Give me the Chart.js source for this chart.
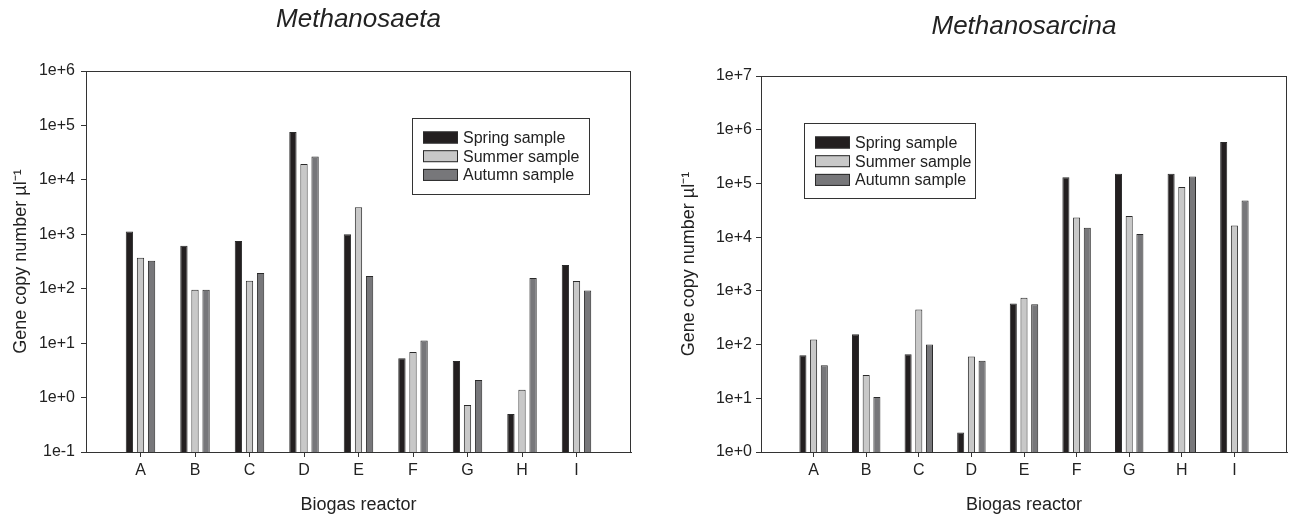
<!DOCTYPE html>
<html>
<head>
<meta charset="utf-8">
<title>Methanosaeta / Methanosarcina gene copy numbers</title>
<script src="https://cdn.jsdelivr.net/npm/chart.js@4.4.1/dist/chart.umd.min.js"></script>
<style>
  body { margin: 0; background: #fff; }
  #wrap { position: relative; width: 1289px; height: 517px; }
  canvas { position: absolute; top: 0; }
  #saeta { left: 0; }
  #sarcina { left: 645px; }
</style>
</head>
<body>
<div id="wrap">
  <canvas id="saeta" width="645" height="517"></canvas>
  <canvas id="sarcina" width="644" height="517"></canvas>
</div>
<script>
// biogas reactors on the x axis
const reactors = ['A', 'B', 'C', 'D', 'E', 'F', 'G', 'H', 'I'];
const seriesNames = ['Spring sample', 'Summer sample', 'Autumn sample'];
const seriesColors = ['#231f20', '#c8c8c8', '#77777a'];

// Methanosaeta, gene copies per µl
const saetaSpring = [1120, 617, 752, 75700, 1000, 5.3, 4.7, 0.50, 272];
const saetaSummer = [370, 96, 140, 19500, 3150, 6.9, 0.73, 1.39, 138];
const saetaAutumn = [327, 96, 194, 27000, 171, 11.2, 2.1, 158, 93];
const saetaTicks = [0.1, 1, 10, 100, 1e3, 1e4, 1e5, 1e6];
const saetaTickLabels = ['1e-1', '1e+0', '1e+1', '1e+2', '1e+3', '1e+4', '1e+5', '1e+6'];

// Methanosarcina
const sarcinaSpring = [63, 155, 66, 2.3, 582, 130000, 152000, 152000, 592000];
const sarcinaSummer = [124, 27, 451, 60, 742, 23100, 24800, 86000, 16400];
const sarcinaAutumn = [41, 10.6, 100, 50, 566, 14900, 11500, 134000, 48000];
const sarcinaTicks = [1, 10, 100, 1e3, 1e4, 1e5, 1e6, 1e7];
const sarcinaTickLabels = ['1e+0', '1e+1', '1e+2', '1e+3', '1e+4', '1e+5', '1e+6', '1e+7'];

const reactorPos = reactors.map((r, i) => i + 1);

Chart.defaults.font.family = "'Liberation Sans', Arial, sans-serif";
Chart.defaults.font.size = 16;
Chart.defaults.color = '#222';

// frame, italic title and boxed legend
const decor = {
  id: 'decor',
  afterDraw(chart, args, opts) {
    const ctx = chart.ctx;
    const a = chart.chartArea;
    ctx.save();
    ctx.strokeStyle = '#333';
    ctx.lineWidth = 1;
    ctx.strokeRect(Math.round(a.left) + 0.5, Math.round(a.top) + 0.5,
      Math.round(a.right - a.left) - 1, Math.round(a.bottom - a.top));

    ctx.fillStyle = '#222';
    ctx.font = "italic 26px 'Liberation Sans', Arial, sans-serif";
    ctx.textAlign = 'center';
    ctx.textBaseline = 'alphabetic';
    ctx.fillText(opts.title, (a.left + a.right) / 2, opts.titleY);

    const lg = opts.legend;
    ctx.strokeRect(lg.x + 0.5, lg.y + 0.5, lg.w, lg.h);
    ctx.font = "16px 'Liberation Sans', Arial, sans-serif";
    ctx.textAlign = 'left';
    ctx.textBaseline = 'middle';
    chart.data.datasets.forEach((ds, i) => {
      const cy = lg.y + 19.5 + i * 18.7;
      ctx.fillStyle = ds.backgroundColor;
      ctx.fillRect(lg.x + 11, cy - 6, 35, 12);
      ctx.strokeStyle = '#2a2a2a';
      ctx.strokeRect(lg.x + 11.5, cy - 5.5, 34, 11);
      ctx.fillStyle = '#222';
      ctx.fillText(ds.label, lg.x + 51, cy + 1);
    });
    ctx.restore();
  }
};

function makeDatasets(series) {
  return series.map((vals, i) => ({
    label: seriesNames[i],
    data: vals.map((v, j) => ({ x: reactorPos[j], y: v })),
    backgroundColor: seriesColors[i],
    borderColor: '#2a2a2a',
    borderWidth: 1,
    borderSkipped: 'bottom',
    categoryPercentage: 0.61,
    barPercentage: 0.66
  }));
}

function buildChart(id, series, ticks, tickLabels, cfg) {
  return new Chart(document.getElementById(id), {
    type: 'bar',
    data: { datasets: makeDatasets(series) },
    plugins: [decor],
    options: {
      responsive: false,
      animation: false,
      layout: { padding: { left: 0, right: cfg.padRight, top: cfg.padTop, bottom: 0 } },
      plugins: {
        legend: { display: false },
        tooltip: { enabled: false },
        decor: { title: cfg.title, titleY: cfg.titleY, legend: cfg.legend }
      },
      scales: {
        x: {
          type: 'linear',
          min: 0,
          max: 10,
          offset: false,
          grid: { offset: false, drawOnChartArea: false, drawTicks: true, tickLength: 5, color: '#333' },
          border: { display: true, color: '#333' },
          afterBuildTicks: s => { s.ticks = reactorPos.map(v => ({ value: v })); },
          ticks: { padding: 4, autoSkip: false, maxRotation: 0, callback: v => reactors[v - 1] || '' },
          title: { display: true, text: 'Biogas reactor', font: { size: 18 }, padding: { top: 1, bottom: 1 } },
          afterFit: s => { s.height = 65; }
        },
        y: {
          type: 'logarithmic',
          min: ticks[0],
          max: ticks[ticks.length - 1],
          grid: { drawOnChartArea: false, drawTicks: true, tickLength: 5, color: '#333' },
          border: { display: true, color: '#333' },
          afterBuildTicks: s => { s.ticks = ticks.map(v => ({ value: v })); },
          ticks: { padding: cfg.tickPad, autoSkip: false, callback: v => tickLabels[ticks.indexOf(v)] },
          title: { display: true, text: 'Gene copy number µl⁻¹', font: { size: 18 }, padding: { top: cfg.yTitlePad, bottom: 0 } },
          afterFit: s => { s.width = cfg.yWidth; }
        }
      }
    }
  });
}

buildChart('saeta', [saetaSpring, saetaSummer, saetaAutumn], saetaTicks, saetaTickLabels, {
  title: 'Methanosaeta', titleY: 27, padRight: 14, padTop: 71, yWidth: 86, tickPad: 6, yTitlePad: 10,
  legend: { x: 412, y: 118, w: 177, h: 76 }
});

buildChart('sarcina', [sarcinaSpring, sarcinaSummer, sarcinaAutumn], sarcinaTicks, sarcinaTickLabels, {
  title: 'Methanosarcina', titleY: 34, padRight: 2, padTop: 76, yWidth: 116, tickPad: 4, yTitlePad: 33,
  legend: { x: 159, y: 123, w: 171, h: 75 }
});
</script>
</body>
</html>
